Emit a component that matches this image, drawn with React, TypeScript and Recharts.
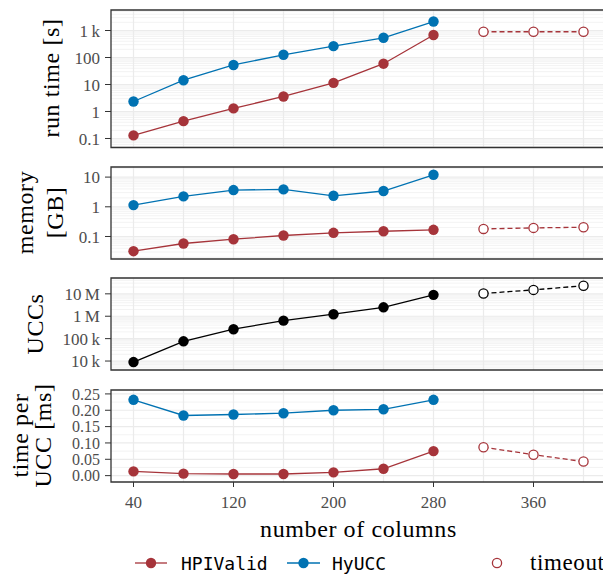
import React from 'react';
import { LineChart, Line, XAxis, YAxis, CartesianGrid, ReferenceArea } from 'recharts';

// x positions: measured runs and the runs that hit the timeout
const columns = [40, 80, 120, 160, 200, 240, 280];
const timeoutColumns = [320, 360, 400];
const gridColumns = [40, 80, 120, 160, 200, 240, 280, 320, 360, 400];
const xTicks = [40, 120, 200, 280, 360];

// run time [s]
const hpiRunTime = [0.13, 0.44, 1.3, 3.6, 11.5, 59, 680];
const hyuccRunTime = [2.35, 14.4, 53, 126, 263, 537, 2150];
const hpiRunTimeTimeout = [900, 900, 900];

// memory [GB]
const hpiMemory = [0.032, 0.058, 0.081, 0.108, 0.133, 0.15, 0.168];
const hyuccMemory = [1.14, 2.24, 3.66, 3.86, 2.35, 3.4, 12];
const hpiMemoryTimeout = [0.18, 0.195, 0.205];

// number of UCCs
const uccCount = [9000, 76000, 263000, 635000, 1230000, 2500000, 9000000];
const uccCountTimeout = [10400000, 15000000, 23000000];

// time per UCC [ms]
const hpiTimePerUcc = [0.013, 0.006, 0.005, 0.005, 0.01, 0.021, 0.075];
const hyuccTimePerUcc = [0.232, 0.184, 0.187, 0.191, 0.2, 0.203, 0.232];
const hpiTimePerUccTimeout = [0.087, 0.064, 0.043];

const runTimeTicks = [0.1, 1, 10, 100, 1000];
const runTimeLabels = ['0.1', '1', '10', '100', '1\u2009k'];
const memoryTicks = [0.1, 1, 10];
const memoryLabels = ['0.1', '1', '10'];
const uccTicks = [10000, 100000, 1000000, 10000000];
const uccLabels = ['10\u2009k', '100\u2009k', '1\u2009M', '10\u2009M'];
const tpuTicks = [0, 0.05, 0.1, 0.15, 0.2, 0.25];
const tpuLabels = ['0.00', '0.05', '0.10', '0.15', '0.20', '0.25'];
const tpuMinor = [0.025, 0.075, 0.125, 0.175, 0.225];

const RED = '#A6343A';
const BLUE = '#0072B2';
const BLACK = '#000000';
const GRID = '#ebebeb';
const SERIF = 'Liberation Serif';
const MONO = 'DejaVu Sans Mono';
const PAD = 14;

const rows = [
  ...columns.map((c, i) => ({
    col: c,
    hpiRunTime: hpiRunTime[i],
    hyuccRunTime: hyuccRunTime[i],
    hpiMemory: hpiMemory[i],
    hyuccMemory: hyuccMemory[i],
    uccCount: uccCount[i],
    hpiTimePerUcc: hpiTimePerUcc[i],
    hyuccTimePerUcc: hyuccTimePerUcc[i],
  })),
  ...timeoutColumns.map((c, i) => ({
    col: c,
    hpiRunTimeTimeout: hpiRunTimeTimeout[i],
    hpiMemoryTimeout: hpiMemoryTimeout[i],
    uccCountTimeout: uccCountTimeout[i],
    hpiTimePerUccTimeout: hpiTimePerUccTimeout[i],
  })),
];

// minor/major grid values for a log axis
const logGrid = (lo: number, hi: number) => {
  const major: number[] = [];
  const minor: number[] = [];
  for (let n = Math.floor(Math.log10(lo)); n <= Math.ceil(Math.log10(hi)); n++) {
    for (let k = 1; k <= 9; k++) {
      const v = k * Math.pow(10, n);
      if (v < lo || v > hi) continue;
      (k === 1 ? major : minor).push(v);
    }
  }
  return { major, minor };
};

type Series = { key: string; color: string; timeout?: boolean };

type PanelProps = {
  top: number;
  height: number;
  log: boolean;
  domain: [number, number];
  ticks: number[];
  labels: string[];
  major: number[];
  minor: number[];
  series: Series[];
  tickSize?: number;
  showX?: boolean;
};

const tickStyle = (size: number) => ({ fill: '#4d4d4d', fontSize: size, style: { fontFamily: SERIF } });

const Panel = ({ top, height, log, domain, ticks, labels, major, minor, series, tickSize = 17, showX }: PanelProps) => {
  const extra = showX ? 64 : 0;
  return (
    <div style={{ position: 'absolute', left: 0, top: top - PAD }}>
      <LineChart
        width={610}
        height={height + PAD + (showX ? 1 : PAD) + extra}
        data={rows}
        margin={{ top: PAD, right: 4, bottom: showX ? 1 : PAD, left: 0 }}
      >
        <CartesianGrid vertical={false} horizontalValues={minor} stroke={GRID} strokeWidth={0.6} />
        <CartesianGrid horizontalValues={major} verticalValues={gridColumns} stroke={GRID} strokeWidth={1.2} />
        <XAxis
          dataKey="col"
          type="number"
          domain={[22, 418]}
          allowDataOverflow
          ticks={xTicks}
          hide={!showX}
          height={extra}
          axisLine={false}
          tickSize={5}
          tickMargin={9}
          tickLine={{ stroke: '#333333' }}
          tick={tickStyle(17)}
          label={{
            content: () => (
              <text
                x={358.5}
                y={height + PAD + 55}
                textAnchor="middle"
                style={{ fontFamily: SERIF, letterSpacing: 0.6 }}
                fontSize={24}
                fill="#000"
              >
                number of columns
              </text>
            ),
          }}
        />
        <YAxis
          type="number"
          scale={log ? 'log' : 'linear'}
          domain={domain}
          allowDataOverflow
          ticks={ticks}
          tickFormatter={(v: number) => labels[ticks.indexOf(v)] ?? ''}
          width={111}
          axisLine={false}
          tickSize={6}
          tickMargin={5}
          tickLine={{ stroke: '#333333' }}
          tick={tickStyle(tickSize)}
          interval={0}
        />
        <ReferenceArea
          x1={22}
          x2={418}
          y1={domain[0]}
          y2={domain[1]}
          fill="none"
          stroke="#333333"
          strokeOpacity={1}
          strokeWidth={1.3}
          ifOverflow="visible"
        />
        {series.map((s) => (
          <Line
            key={s.key}
            dataKey={s.key}
            type="linear"
            stroke={s.color}
            strokeWidth={1.3}
            strokeDasharray={s.timeout ? '5 3' : undefined}
            dot={
              s.timeout
                ? { r: 4.6, fill: '#ffffff', stroke: s.color, strokeWidth: 1.3, strokeDasharray: '' }
                : { r: 5.2, fill: s.color, stroke: s.color, strokeWidth: 0 }
            }
            activeDot={false}
            isAnimationActive={false}
            connectNulls={false}
          />
        ))}
      </LineChart>
    </div>
  );
};

const runTimeDomain: [number, number] = [0.0464, 5750];
const memoryDomain: [number, number] = [0.01746, 21.9];
const uccDomain: [number, number] = [3981, 50900000];
const tpuDomain: [number, number] = [-0.0195, 0.262];

const runGrid = logGrid(...runTimeDomain);
const memGrid = logGrid(...memoryDomain);
const uccGrid = logGrid(...uccDomain);

const Title = ({ x, y, text }: { x: number; y: number; text: string }) => (
  <text
    transform={`translate(${x},${y}) rotate(-90)`}
    textAnchor="middle"
    style={{ fontFamily: SERIF, letterSpacing: 0.6 }}
    fontSize={24}
    fill="#000"
  >
    {text}
  </text>
);

export default function App() {
  return (
    <div style={{ position: 'absolute', left: 0, top: 0, width: 603, height: 574, overflow: 'hidden', background: '#fff' }}>
      <Panel
        top={9.5}
        height={137.5}
        log
        domain={runTimeDomain}
        ticks={runTimeTicks}
        labels={runTimeLabels}
        major={runGrid.major}
        minor={runGrid.minor}
        series={[
          { key: 'hpiRunTime', color: RED },
          { key: 'hyuccRunTime', color: BLUE },
          { key: 'hpiRunTimeTimeout', color: RED, timeout: true },
        ]}
      />
      <Panel
        top={166.5}
        height={92}
        log
        domain={memoryDomain}
        ticks={memoryTicks}
        labels={memoryLabels}
        major={memGrid.major}
        minor={memGrid.minor}
        series={[
          { key: 'hpiMemory', color: RED },
          { key: 'hyuccMemory', color: BLUE },
          { key: 'hpiMemoryTimeout', color: RED, timeout: true },
        ]}
      />
      <Panel
        top={278}
        height={92}
        log
        domain={uccDomain}
        ticks={uccTicks}
        labels={uccLabels}
        major={uccGrid.major}
        minor={uccGrid.minor}
        series={[
          { key: 'uccCount', color: BLACK },
          { key: 'uccCountTimeout', color: BLACK, timeout: true },
        ]}
      />
      <Panel
        top={389.5}
        height={92}
        log={false}
        domain={tpuDomain}
        ticks={tpuTicks}
        labels={tpuLabels}
        major={tpuTicks}
        minor={tpuMinor}
        tickSize={16}
        series={[
          { key: 'hpiTimePerUcc', color: RED },
          { key: 'hyuccTimePerUcc', color: BLUE },
          { key: 'hpiTimePerUccTimeout', color: RED, timeout: true },
        ]}
        showX
      />
      <svg width={603} height={574} style={{ position: 'absolute', left: 0, top: 0, pointerEvents: 'none' }}>
        <Title x={59} y={78} text="run time [s]" />
        <Title x={33} y={212.5} text="memory" />
        <Title x={63} y={212.5} text="[GB]" />
        <Title x={43} y={324} text="UCCs" />
        <Title x={28} y={435.5} text="time per" />
        <Title x={51} y={435.5} text="UCC [ms]" />
        {/* legend */}
        <g>
          <line x1={135} x2={167} y1={563} y2={563} stroke={RED} strokeWidth={1.3} />
          <circle cx={151} cy={563} r={5.2} fill={RED} />
          <text x={181} y={569.5} style={{ fontFamily: MONO }} fontSize={18} fill="#000">HPIValid</text>
          <line x1={287} x2={320} y1={563} y2={563} stroke={BLUE} strokeWidth={1.3} />
          <circle cx={303.5} cy={563} r={5.2} fill={BLUE} />
          <text x={332} y={569.5} style={{ fontFamily: MONO }} fontSize={18} fill="#000">HyUCC</text>
          <circle cx={497} cy={563} r={4.6} fill="#fff" stroke={RED} strokeWidth={1.3} />
          <text x={530} y={569.5} style={{ fontFamily: SERIF, letterSpacing: 0.6 }} fontSize={23} fill="#000">timeout</text>
        </g>
      </svg>
    </div>
  );
}
